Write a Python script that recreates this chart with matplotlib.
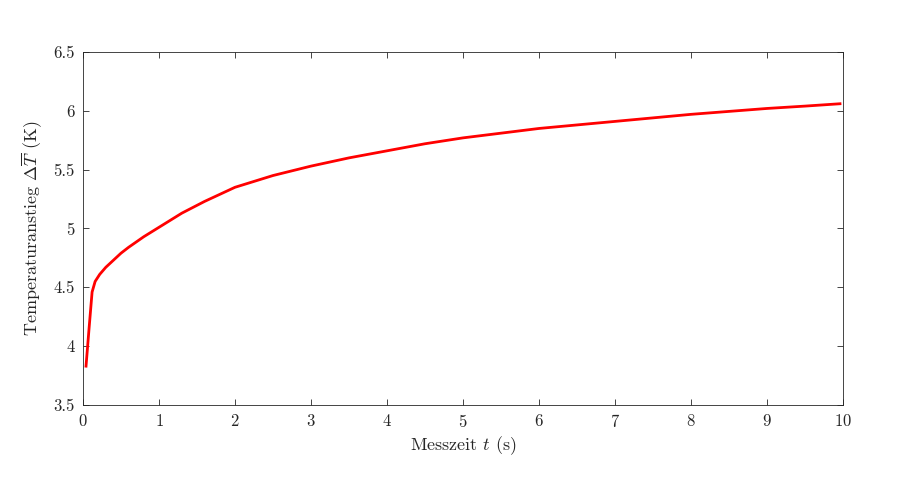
import matplotlib
matplotlib.use('Agg')
import matplotlib.pyplot as plt
from matplotlib.ticker import FuncFormatter

plt.rcParams['font.family'] = 'serif'
plt.rcParams['font.serif'] = ['cmr10', 'DejaVu Serif']
plt.rcParams['mathtext.fontset'] = 'cm'
plt.rcParams['axes.formatter.use_mathtext'] = True

t_s = [0.04, 0.08, 0.12, 0.16, 0.22, 0.3, 0.4, 0.5, 0.6, 0.8, 1.0, 1.3, 1.6,
       2.0, 2.5, 3.0, 3.5, 4.0, 4.5, 5.0, 5.5, 6.0, 6.5, 7.0, 7.5, 8.0,
       8.5, 9.0, 9.5, 9.96]
dT_K = [3.83, 4.15, 4.46, 4.55, 4.61, 4.67, 4.73, 4.79, 4.84, 4.93, 5.01, 5.13, 5.23,
        5.35, 5.45, 5.53, 5.60, 5.66, 5.72, 5.77, 5.81, 5.85, 5.88, 5.91, 5.94, 5.97,
        5.995, 6.02, 6.04, 6.06]

x_ticks = list(range(0, 11))
y_ticks = [3.5, 4, 4.5, 5, 5.5, 6, 6.5]

fig = plt.figure(figsize=(8.98, 4.79), dpi=100)
ax = fig.add_axes([0.0924, 0.1545, 0.8464, 0.7370])

ax.plot(t_s, dT_K, color='red', lw=2.0)

ax.set_xlim(0, 10)
ax.set_ylim(3.5, 6.5)
ax.set_xticks(x_ticks)
ax.set_yticks(y_ticks)
ax.yaxis.set_major_formatter(FuncFormatter(lambda v, p: f'{v:g}'))
ax.tick_params(direction='in', top=True, right=True, length=4, width=0.6,
               colors='#262626', labelsize=12, labelcolor='#262626', pad=6)
for sp in ax.spines.values():
    sp.set_color('#262626')
    sp.set_linewidth(0.6)

ax.set_xlabel(r'Messzeit $t$ (s)', fontsize=13, color='#262626', labelpad=3)
ax.set_ylabel(r'Temperaturanstieg $\Delta\overline{T}$ (K)', fontsize=13, color='#262626', labelpad=6)

fig.savefig('out.png', dpi=100, facecolor='white')
